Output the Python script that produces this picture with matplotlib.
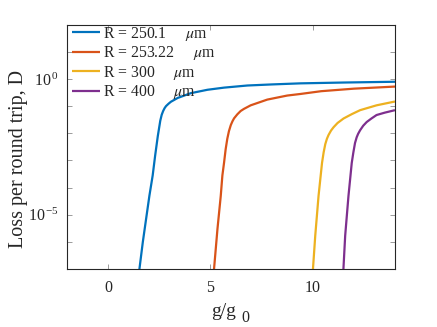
import matplotlib
matplotlib.use("Agg")
import matplotlib.pyplot as plt
from matplotlib.ticker import FixedLocator, FixedFormatter, NullLocator

plt.rcParams['font.family'] = ['Liberation Serif', 'DejaVu Serif']
plt.rcParams['mathtext.fontset'] = 'stix'

# ---- data ----
labels = ["R = 250.1", "R = 253.22", "R = 300", "R = 400"]
unit = r"$\mu$m"

g_blue = [1.50, 1.70, 1.86, 2.02, 2.18, 2.30, 2.43, 2.55, 2.62, 2.69, 2.76, 2.83, 2.95, 3.07,
          3.40, 4.04, 4.85, 5.66, 6.80, 8.0, 9.39, 11.5, 14.0]
d_blue = [6.3e-8, 1.0e-6, 7.1e-6, 5.0e-5, 2.8e-4, 1.5e-3, 7.9e-3, 2.9e-2, 4.8e-2, 6.6e-2,
          8.4e-2, 0.100, 0.122, 0.145, 0.20, 0.30, 0.40, 0.48, 0.575, 0.63, 0.69, 0.74, 0.79]

g_orange = [5.15, 5.34, 5.50, 5.58, 5.66, 5.74, 5.82, 5.90, 5.99, 6.07, 6.15, 6.31, 6.47,
            6.63, 6.96, 7.77, 8.74, 9.38, 10.4, 12.0, 14.0]
d_orange = [6.3e-8, 3.0e-6, 4.9e-5, 2.8e-4, 8.1e-4, 2.6e-3, 6.3e-3, 1.2e-2, 2.0e-2, 2.75e-2,
            3.55e-2, 5.0e-2, 6.6e-2, 7.9e-2, 0.107, 0.174, 0.245, 0.28, 0.355, 0.44, 0.525]

g_yellow = [9.98, 10.11, 10.27, 10.44, 10.52, 10.60, 10.68, 10.76, 10.88, 11.0, 11.2,
            11.49, 11.9, 12.3, 13.1, 14.0]
d_yellow = [6.3e-8, 1.7e-6, 4.9e-5, 8.1e-4, 2.0e-3, 4.0e-3, 6.3e-3, 8.7e-3, 1.26e-2,
            1.66e-2, 2.4e-2, 3.5e-2, 5.1e-2, 7.1e-2, 0.107, 0.148]

g_purple = [11.47, 11.57, 11.73, 11.89, 11.97, 12.05, 12.13, 12.2, 12.3, 12.45, 12.62,
            12.85, 13.1, 13.5, 14.0]
d_purple = [6.3e-8, 1.7e-6, 4.9e-5, 8.1e-4, 2.0e-3, 4.4e-3, 7.1e-3, 9.5e-3, 1.3e-2,
            1.9e-2, 2.6e-2, 3.5e-2, 4.7e-2, 5.75e-2, 7.1e-2]

colors = ["#0072BD", "#D95319", "#EDB120", "#7E2F8E"]

xticks = [0, 5, 10]
yticks = [1e-7, 1e-6, 1e-5, 1e-4, 1e-3, 1e-2, 1e-1, 1e0, 1e1, 1e2]
ytick_labels = ["", "", r"10$^{\,\mathregular{-5}}$", "", "", "", "",
                r"10$^{\,\mathregular{0}}$", "", ""]

fig = plt.figure(figsize=(4.37, 3.27), dpi=100)
ax = fig.add_axes([0.1533, 0.1774, 0.7506, 0.7471])

series = [(g_blue, d_blue), (g_orange, d_orange), (g_yellow, d_yellow), (g_purple, d_purple)]
for (g, d), c, lab in zip(series, colors, labels):
    ax.plot(g, d, color=c, lw=1.6, label=lab + "     " + unit,
            solid_joinstyle='round', solid_capstyle='butt')

ax.set_yscale('log')
ax.set_xlim(-2, 14)
ax.set_ylim(1e-7, 1e2)
ax.xaxis.set_major_locator(FixedLocator(xticks))
ax.yaxis.set_major_locator(FixedLocator(yticks))
ax.yaxis.set_major_formatter(FixedFormatter(ytick_labels))
ax.yaxis.set_minor_locator(NullLocator())

axcol = '#262626'
for s in ax.spines.values():
    s.set_color(axcol)
    s.set_linewidth(0.8)
ax.tick_params(direction='in', top=True, right=True, length=3.5, width=0.6,
               colors='#8c8c8c', labelcolor=axcol, labelsize=11.5)
ax.tick_params(axis='x', pad=8)
ax.tick_params(axis='y', pad=6)

ax.set_xlabel("g/g", fontsize=14, color=axcol)
ax.xaxis.set_label_coords(0.478, -0.14)
ax.text(0.533, -0.215, "0", transform=ax.transAxes, fontsize=11.5, color=axcol,
        ha='left', va='baseline')
ax.set_ylabel("Loss per round trip, D", fontsize=14.5, color=axcol)
ax.yaxis.set_label_coords(-0.118, 0.45)

leg = ax.legend(loc='upper left', bbox_to_anchor=(0.015, 1.0), frameon=False,
                fontsize=11.3, handlelength=1.8, handletextpad=0.2, labelspacing=0.1,
                borderaxespad=0.0, borderpad=0.0)
for t in leg.get_texts():
    t.set_color(axcol)

fig.savefig("out.png", dpi=100)
